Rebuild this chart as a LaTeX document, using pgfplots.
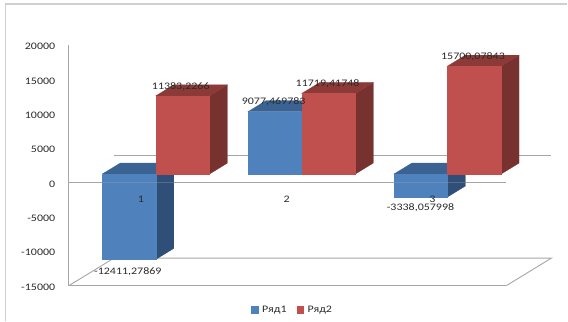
\documentclass[border=0pt]{standalone}
\usepackage{fontspec}
\setmainfont{Carlito}[FakeStretch=1.2]
\usepackage{pgfplots}
\pgfplotsset{compat=1.18}

\definecolor{axisgray}{HTML}{A6A6A6}
\definecolor{framegray}{HTML}{CFCFCF}
\definecolor{labelink}{HTML}{2A2A2A}
\definecolor{blueF}{HTML}{4F81BD}
\definecolor{blueT}{HTML}{3A6293}
\definecolor{blueS}{HTML}{304F78}
\definecolor{redF}{HTML}{C0504D}
\definecolor{redT}{HTML}{8C3A38}
\definecolor{redS}{HTML}{773230}

% Depth of the oblique projection: x in data units, y in thousands
\newcommand{\baseDX}{0.0959}  % bar base shift, x
\newcommand{\baseDY}{1.221}   % bar base shift, y
\newcommand{\depthDX}{0.1233} % bar depth, x
\newcommand{\depthDY}{1.599}  % bar depth, y
\newcommand{\barW}{0.368}     % bar width

% One oblique bar: category, position (0 left, 1 right), value, three face colours
\newcommand{\obliquebar}[6]{%
  \pgfmathsetmacro{\xa}{#1+\baseDX+(#2-1)*\barW}%
  \pgfmathsetmacro{\xb}{\xa+\barW}%
  \pgfmathsetmacro{\xc}{\xb+\depthDX}%
  \pgfmathsetmacro{\xd}{\xa+\depthDX}%
  \pgfmathsetmacro{\yo}{\baseDY}%
  \pgfmathsetmacro{\yv}{#3/1000+\baseDY}%
  \pgfmathsetmacro{\yhi}{max(\yo,\yv)}%
  \pgfmathsetmacro{\yhb}{\yhi+\depthDY}%
  \pgfmathsetmacro{\ylo}{min(\yo,\yv)}%
  \pgfmathsetmacro{\ylb}{\ylo+\depthDY}%
  \addplot[fill=#6,draw=#6,line width=0.2pt,forget plot] coordinates {(\xb,\ylo e3)(\xc,\ylb e3)(\xc,\yhb e3)(\xb,\yhi e3)} -- cycle;
  \addplot[fill=#5,draw=#5,line width=0.2pt,forget plot] coordinates {(\xa,\yhi e3)(\xd,\yhb e3)(\xc,\yhb e3)(\xb,\yhi e3)} -- cycle;
  \addplot[fill=#4,draw=#4,line width=0.2pt,forget plot] coordinates {(\xa,\ylo e3)(\xa,\yhi e3)(\xb,\yhi e3)(\xb,\ylo e3)} -- cycle;
}

\begin{document}
\begin{tikzpicture}[x=1pt,y=1pt]
  % Page extent and the outer chart frame
  \path (0,0) rectangle (568,321);
  \draw[framegray,line width=1.4pt] (5.5,0) -- (5.5,317) -- (568,317);

  \begin{axis}[
    at={(69pt,35pt)}, anchor=south west,
    scale only axis, width=438pt, height=241pt,
    xmin=0.5, xmax=3.5, ymin=-15000, ymax=20000,
    clip=false,
    axis lines=left,
    axis line style={draw=axisgray,line width=0.9pt,-},
    tick style={draw=none},
    scaled ticks=false,
    xtick=\empty,
    ytick={-15000,-10000,-5000,0,5000,10000,15000,20000},
    yticklabels={-15000,-10000,-5000,0,5000,10000,15000,20000},
    y tick label style={xshift=-8pt,yshift=-1.5pt,text=labelink,font=\fontsize{10}{12}\selectfont},
    legend style={at={(axis cs:2.041,-18500)},anchor=center,draw=none,fill=none,
      legend columns=2,font=\fontsize{10}{12}\selectfont,text=labelink,
      nodes={inner xsep=4pt},
      /tikz/every even column/.style={column sep=6pt}},
    legend cell align=left,
  ]
    % Legend keys
    \addlegendimage{legend image code/.code={\fill[blueF] (0pt,-3pt) rectangle (6.5pt,3.5pt);}}
    \addlegendentry{Ряд1}
    \addlegendimage{legend image code/.code={\fill[redF] (0pt,-3pt) rectangle (6.5pt,3.5pt);}}
    \addlegendentry{Ряд2}

    % Floor outline and zero lines on the front and back planes
    \addplot[axisgray,line width=0.9pt,forget plot] coordinates {(0.5,-15000)(0.8082,-11003)(3.8082,-11003)(3.5,-15000)};
    \addplot[axisgray,line width=0.9pt,forget plot] coordinates {(0.8082,4000)(3.8082,4000)};
    \addplot[axisgray,line width=0.9pt,forget plot] coordinates {(0.5,0)(3.5,0)};

    % Series values per category
    \obliquebar{1}{0}{-12411.27869}{blueF}{blueT}{blueS}
    \obliquebar{1}{1}{11383.2266}{redF}{redT}{redS}
    \obliquebar{2}{0}{9077.469783}{blueF}{blueT}{blueS}
    \obliquebar{2}{1}{11719.41748}{redF}{redT}{redS}
    \obliquebar{3}{0}{-3338.057998}{blueF}{blueT}{blueS}
    \obliquebar{3}{1}{15700.07843}{redF}{redT}{redS}

    % Front zero line shows faintly through the bars
    \addplot[axisgray,opacity=0.35,line width=0.9pt,forget plot] coordinates {(0.5,0)(3.5,0)};

    % Category names and value labels, above the bars
    \begin{scope}[every node/.style={text=labelink,font=\fontsize{10}{12}\selectfont,inner sep=0pt}]
      \node at (axis cs:0.993,-2450) {1};
      \node at (axis cs:1.993,-2450) {2};
      \node at (axis cs:2.993,-2450) {3};
      \node at (axis cs:1.267,13997) {11383,2266};
      \node at (axis cs:1.904,11672) {9077,469783};
      \node at (axis cs:2.274,14346) {11719,41748};
      \node at (axis cs:3.271,18358) {15700,07843};
      \node at (axis cs:0.904,-12936) {-12411,27869};
      \node at (axis cs:2.911,-3677) {-3338,057998};
    \end{scope}
  \end{axis}
\end{tikzpicture}
\end{document}
